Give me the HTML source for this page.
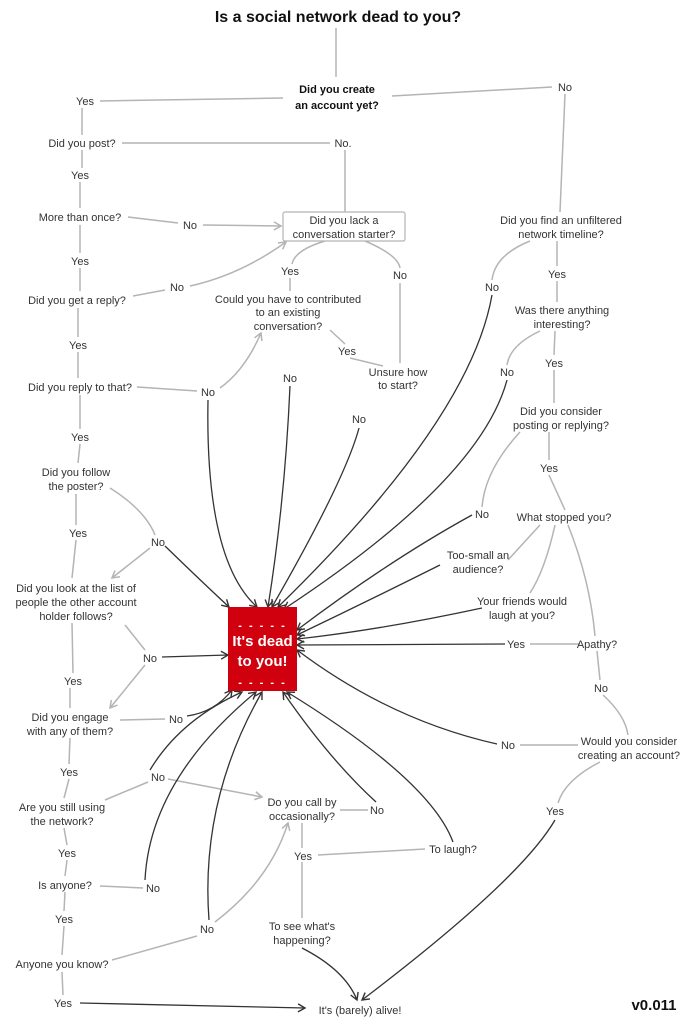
<!DOCTYPE html>
<html><head><meta charset="utf-8"><style>
html,body{margin:0;padding:0;background:#fff;}
svg{display:block;}
text{font-family:"Liberation Sans",sans-serif;font-size:11px;fill:#333;text-anchor:middle;}
.g{stroke:#b4b4b4;stroke-width:1.5;fill:none;}
.d{stroke:#333;stroke-width:1.3;fill:none;}
</style></head><body>
<svg width="694" height="1024" viewBox="0 0 694 1024" xmlns="http://www.w3.org/2000/svg">
<defs>
<marker id="ag" markerWidth="10" markerHeight="10" refX="8" refY="5" orient="auto" markerUnits="userSpaceOnUse"><path d="M1,1 L8,5 L1,9" fill="none" stroke="#b4b4b4" stroke-width="1.5"/></marker>
<marker id="ad" markerWidth="10" markerHeight="10" refX="8" refY="5" orient="auto" markerUnits="userSpaceOnUse"><path d="M1,1 L8,5 L1,9" fill="none" stroke="#333" stroke-width="1.4"/></marker>
</defs>
<!-- grey lines -->
<g class="g">
<path d="M336,28 L336,77"/>
<path d="M100,101 L283,98"/><path d="M392,96 L552,87"/>
<path d="M82,108 L82,135"/><path d="M82,150 L82,168"/><path d="M80,182 L80,208"/><path d="M80,225 L80,253"/><path d="M80,268 L80,291"/><path d="M78,308 L78,337"/><path d="M78,352 L78,378"/><path d="M80,395 L80,429"/><path d="M80,444 L78,463"/><path d="M76,494 L76,525"/><path d="M76,540 L72,578"/><path d="M72,623 L73,673"/><path d="M70,688 L70,708"/><path d="M70,738 L69,764"/><path d="M69,779 L64,798"/><path d="M64,828 L67,845"/><path d="M67,860 L65,876"/><path d="M65,892 L64,911"/><path d="M64,926 L62,955"/><path d="M62,972 L63,995"/>
<path d="M122,143 L330,143"/><path d="M345,150 L345,212"/>
<path d="M128,217 L178,223"/><path d="M203,225 L281,226" marker-end="url(#ag)"/>
<path d="M133,296 L165,290"/><path d="M190,286 Q240,275 286,242" marker-end="url(#ag)"/>
<path d="M325,241 Q295,250 292,264"/><path d="M290,278 L290,291"/>
<path d="M365,241 Q398,255 400,268"/><path d="M400,283 L400,363"/>
<path d="M565,94 L560,212"/>
<path d="M557,241 L557,266"/><path d="M557,281 L557,302"/>
<path d="M530,241 Q495,255 492,280"/>
<path d="M555,331 L554,355"/><path d="M554,370 L554,403"/><path d="M540,331 Q510,345 507,365"/>
<path d="M549,432 L549,460"/><path d="M549,475 L565,510"/><path d="M520,432 Q485,470 482,507"/>
<path d="M330,330 L345,344"/><path d="M350,358 L383,366"/>
<path d="M137,387 L197,391"/><path d="M220,388 Q245,370 261,333" marker-end="url(#ag)"/>
<path d="M110,488 Q145,510 155,535"/><path d="M150,548 L112,578" marker-end="url(#ag)"/>
<path d="M540,525 L508,560"/><path d="M555,525 Q545,570 530,593"/><path d="M568,525 Q590,580 595,636"/>
<path d="M580,644 L530,644"/>
<path d="M597,651 L600,680"/><path d="M603,695 Q625,715 628,735"/>
<path d="M578,745 L520,745"/>
<path d="M600,762 Q565,780 558,803"/>
<path d="M125,625 L145,650"/><path d="M145,665 L110,708" marker-end="url(#ag)"/>
<path d="M120,720 L165,719"/>
<path d="M105,800 L148,782"/><path d="M168,779 L262,797" marker-end="url(#ag)"/>
<path d="M340,810 L368,810"/>
<path d="M302,823 L302,848"/><path d="M318,855 L425,849"/>
<path d="M302,862 L302,918"/>
<path d="M100,886 L143,888"/>
<path d="M112,960 L197,936"/><path d="M215,922 Q270,880 288,823" marker-end="url(#ag)"/>
</g>
<!-- dark arrows -->
<g class="d">
<path d="M80,1003 L305,1008" marker-end="url(#ad)"/>
<path d="M165,546 Q200,580 229,607" marker-end="url(#ad)"/>
<path d="M208,400 Q205,560 257,607" marker-end="url(#ad)"/>
<path d="M290,386 Q285,500 268,607" marker-end="url(#ad)"/>
<path d="M359,428 Q345,480 272,607" marker-end="url(#ad)"/>
<path d="M492,295 Q470,420 278,607" marker-end="url(#ad)"/>
<path d="M507,380 Q480,480 284,609" marker-end="url(#ad)"/>
<path d="M472,515 Q390,560 297,630" marker-end="url(#ad)"/>
<path d="M440,565 Q370,600 297,635" marker-end="url(#ad)"/>
<path d="M482,608 Q380,630 297,639" marker-end="url(#ad)"/>
<path d="M505,644 L297,645" marker-end="url(#ad)"/>
<path d="M497,744 Q390,720 297,650" marker-end="url(#ad)"/>
<path d="M162,657 L228,655" marker-end="url(#ad)"/>
<path d="M187,716 Q215,712 232,690" marker-end="url(#ad)"/>
<path d="M150,770 Q180,720 242,692" marker-end="url(#ad)"/>
<path d="M145,880 Q150,780 256,692" marker-end="url(#ad)"/>
<path d="M209,920 Q200,800 262,692" marker-end="url(#ad)"/>
<path d="M376,802 Q330,760 283,692" marker-end="url(#ad)"/>
<path d="M453,842 Q430,780 287,692" marker-end="url(#ad)"/>
<path d="M302,948 Q345,970 357,1000" marker-end="url(#ad)"/>
<path d="M555,820 Q520,880 362,1000" marker-end="url(#ad)"/>
</g>
<!-- red box -->
<rect x="228" y="607" width="69" height="84" fill="#d0000e"/>
<text x="262.5" y="629" style="fill:#fff;font-size:11px;font-weight:bold;letter-spacing:2px">- - - - -</text>
<text x="262.5" y="646" style="fill:#fff;font-size:15px;font-weight:bold">It's dead</text>
<text x="262.5" y="666" style="fill:#fff;font-size:15px;font-weight:bold">to you!</text>
<text x="262.5" y="686" style="fill:#fff;font-size:11px;font-weight:bold;letter-spacing:2px">- - - - -</text>
<!-- box node -->
<rect x="283" y="212" width="122" height="29" rx="2" fill="#fff" stroke="#b4b4b4" stroke-width="1.2"/>
<!-- texts -->
<text x="338" y="22" style="font-size:16px;font-weight:bold;fill:#111">Is a social network dead to you?</text>
<text x="337" y="93" style="font-weight:bold;fill:#111">Did you create</text>
<text x="337" y="109" style="font-weight:bold;fill:#111">an account yet?</text>
<text x="565" y="91">No</text>
<text x="85" y="105">Yes</text>
<text x="82" y="147">Did you post?</text>
<text x="343" y="147">No.</text>
<text x="80" y="179">Yes</text>
<text x="80" y="221">More than once?</text>
<text x="190" y="229">No</text>
<text x="344" y="224">Did you lack a</text>
<text x="344" y="238">conversation starter?</text>
<text x="561" y="224">Did you find an unfiltered</text>
<text x="561" y="238">network timeline?</text>
<text x="80" y="265">Yes</text>
<text x="290" y="275">Yes</text>
<text x="400" y="279">No</text>
<text x="557" y="278">Yes</text>
<text x="177" y="291">No</text>
<text x="77" y="304">Did you get a reply?</text>
<text x="288" y="303">Could you have to contributed</text>
<text x="288" y="316">to an existing</text>
<text x="288" y="330">conversation?</text>
<text x="492" y="291">No</text>
<text x="562" y="314">Was there anything</text>
<text x="562" y="328">interesting?</text>
<text x="78" y="349">Yes</text>
<text x="347" y="355">Yes</text>
<text x="554" y="367">Yes</text>
<text x="398" y="376">Unsure how</text>
<text x="398" y="389">to start?</text>
<text x="507" y="376">No</text>
<text x="80" y="391">Did you reply to that?</text>
<text x="208" y="396">No</text>
<text x="290" y="382">No</text>
<text x="359" y="423">No</text>
<text x="561" y="415">Did you consider</text>
<text x="561" y="429">posting or replying?</text>
<text x="80" y="441">Yes</text>
<text x="549" y="472">Yes</text>
<text x="76" y="476">Did you follow</text>
<text x="76" y="490">the poster?</text>
<text x="482" y="518">No</text>
<text x="564" y="521">What stopped you?</text>
<text x="78" y="537">Yes</text>
<text x="158" y="546">No</text>
<text x="478" y="559">Too-small an</text>
<text x="478" y="573">audience?</text>
<text x="76" y="592">Did you look at the list of</text>
<text x="76" y="606">people the other account</text>
<text x="76" y="620">holder follows?</text>
<text x="522" y="605">Your friends would</text>
<text x="522" y="619">laugh at you?</text>
<text x="516" y="648">Yes</text>
<text x="597" y="648">Apathy?</text>
<text x="150" y="662">No</text>
<text x="73" y="685">Yes</text>
<text x="601" y="692">No</text>
<text x="70" y="721">Did you engage</text>
<text x="70" y="735">with any of them?</text>
<text x="176" y="723">No</text>
<text x="508" y="749">No</text>
<text x="629" y="745">Would you consider</text>
<text x="629" y="759">creating an account?</text>
<text x="69" y="776">Yes</text>
<text x="158" y="781">No</text>
<text x="62" y="811">Are you still using</text>
<text x="62" y="825">the network?</text>
<text x="302" y="806">Do you call by</text>
<text x="302" y="820">occasionally?</text>
<text x="377" y="814">No</text>
<text x="555" y="815">Yes</text>
<text x="67" y="857">Yes</text>
<text x="303" y="860">Yes</text>
<text x="453" y="853">To laugh?</text>
<text x="65" y="889">Is anyone?</text>
<text x="153" y="892">No</text>
<text x="64" y="923">Yes</text>
<text x="207" y="933">No</text>
<text x="302" y="930">To see what's</text>
<text x="302" y="944">happening?</text>
<text x="62" y="968">Anyone you know?</text>
<text x="63" y="1007">Yes</text>
<text x="360" y="1014">It's (barely) alive!</text>
<text x="654" y="1010" style="font-size:15px;font-weight:bold;fill:#111">v0.011</text>
</svg>
</body></html>
